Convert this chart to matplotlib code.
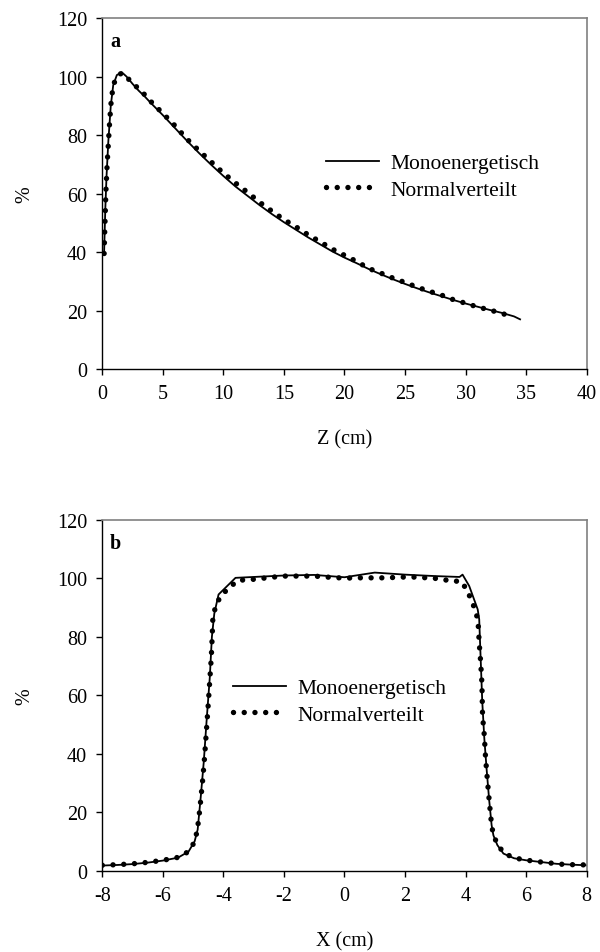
import numpy as np
import matplotlib.pyplot as plt

plt.rcParams['font.family'] = ['Liberation Serif', 'DejaVu Serif']
plt.rcParams['axes.unicode_minus'] = False

# depth dose (panel a)
z_mono = [0.15, 0.25, 0.35, 0.5, 0.7, 0.9, 1.2, 1.6, 2.0, 2.5, 3.0, 3.5, 4.0,
          5.0, 6.0, 7.0, 8.0, 9.0, 10.0, 11.0, 12.0, 13.0, 14.0, 15.0, 16.0,
          17.0, 18.0, 19.0, 20.0, 21.0, 22.0, 23.0, 24.0, 25.0, 26.0, 27.0,
          28.0, 29.0, 30.0, 31.0, 32.0, 33.0, 34.0, 34.5]
d_mono = [40.0, 55.0, 66.0, 78.0, 90.0, 97.0, 100.5, 101.5, 100.0, 97.5, 95.2,
          93.2, 91.0, 86.8, 82.4, 78.0, 73.8, 69.8, 66.0, 62.4, 59.2, 56.0, 53.0,
          50.2, 47.6, 45.0, 42.6, 40.2, 38.1, 36.2, 34.2, 32.4, 30.7, 29.1, 27.6,
          26.2, 24.9, 23.6, 22.4, 21.3, 20.2, 19.2, 18.0, 17.0]

z_norm = [0.15, 0.2, 0.25, 0.3, 0.4, 0.5, 0.6, 0.7, 0.8, 1.0, 1.3, 1.6, 2.0,
          2.5, 3.0, 3.5, 4.0, 5.0, 6.0, 7.0, 8.0, 9.0, 10.0, 11.0, 12.0, 13.0,
          14.0, 15.0, 16.0, 17.0, 18.0, 19.0, 20.0, 21.0, 22.0, 23.0, 24.0,
          25.0, 26.0, 27.0, 28.0, 29.0, 30.0, 31.0, 32.0, 33.0, 34.0]
d_norm = [39.5, 47.0, 54.0, 61.0, 70.0, 77.0, 84.0, 90.0, 94.0, 98.0, 100.3,
          101.2, 99.8, 97.8, 95.8, 93.8, 91.5, 87.4, 83.2, 78.6, 74.6, 70.8,
          67.0, 63.6, 60.4, 57.0, 54.0, 51.1, 48.6, 45.9, 43.5, 41.0, 38.9,
          36.8, 34.4, 32.8, 31.1, 29.6, 28.0, 26.6, 25.3, 23.7, 22.5, 21.2,
          20.2, 19.0, 17.8]

# lateral profile (panel b)
x_mono = [-8.0, -7.5, -7.0, -6.5, -6.0, -5.5, -5.15, -4.95, -4.85, -4.75,
          -4.65, -4.55, -4.45, -4.38, -4.3, -4.16, -3.6, -3.0, -2.0, -1.0, 0.0,
          1.0, 2.0, 3.0, 3.8, 3.9, 4.12, 4.4, 4.45, 4.5, 4.55, 4.62, 4.7, 4.78,
          4.86, 4.92, 5.05, 5.25, 5.6, 6.0, 6.5, 7.0, 7.5, 8.0]
p_mono = [1.7, 1.9, 2.2, 2.7, 3.4, 4.4, 6.5, 10.0, 14.0, 25.0, 37.0, 52.0,
          66.0, 80.0, 88.0, 94.5, 100.2, 100.5, 101.0, 101.2, 100.4, 102.0,
          101.3, 100.8, 100.5, 101.3, 97.4, 89.4, 86.0, 72.0, 58.0, 45.0, 34.0,
          24.0, 15.5, 12.0, 8.7, 5.8, 4.2, 3.5, 2.9, 2.3, 2.0, 1.8]

x_norm = [-8.0, -7.5, -7.0, -6.5, -6.0, -5.5, -5.2, -5.0, -4.9, -4.82, -4.75,
          -4.68, -4.62, -4.56, -4.5, -4.45, -4.4, -4.37, -4.35, -4.28, -4.14,
          -3.86, -3.5, -3.2, -2.8, -2.5, -2.0, -1.5, -1.0, -0.5, 0.0, 0.5, 1.0,
          1.4, 1.75, 2.1, 2.5, 2.8, 3.2, 3.5, 3.84, 4.04, 4.18, 4.32, 4.41,
          4.45, 4.5, 4.54, 4.56, 4.62, 4.66, 4.72, 4.78, 4.85, 4.9, 5.03, 5.26,
          5.6, 6.0, 6.3, 6.7, 7.0, 7.35, 7.7, 8.0]
p_norm = [1.8, 2.0, 2.3, 2.8, 3.5, 4.5, 6.2, 9.0, 12.0, 17.0, 24.0, 31.5,
          39.0, 48.0, 57.0, 65.0, 73.0, 80.0, 86.0, 89.5, 93.0, 96.5, 99.4,
          99.5, 99.9, 100.3, 100.8, 100.8, 100.8, 100.4, 100.1, 100.2, 100.2,
          100.2, 100.4, 100.5, 100.4, 100.1, 99.9, 99.0, 99.1, 96.2, 92.8,
          89.2, 85.5, 78.0, 71.0, 64.0, 53.0, 46.0, 38.5, 31.0, 24.0, 16.5,
          13.0, 9.3, 6.0, 4.3, 3.6, 3.1, 2.7, 2.3, 2.0, 2.0, 1.9]

FS = 14.5
LEG_FS = 15.5
fig = plt.figure(figsize=(6, 9.53), dpi=100)
ax_a = fig.add_axes([0.1705, 0.6117, 0.8073, 0.3683])
ax_b = fig.add_axes([0.1705, 0.0855, 0.8073, 0.3678])

dot_style = dict(color='black', linewidth=3.9, linestyle=(0, (0.001, 1.98)),
                 dash_capstyle='round')


def style_axes(ax, xlim, xticks, xlabel, tag, legend_anchor):
    ax.set_xlim(*xlim)
    ax.set_ylim(0, 120)
    ax.set_xticks(xticks)
    ax.set_yticks(range(0, 121, 20))
    ax.tick_params(direction='out', length=4, width=1, labelsize=FS, pad=7,
                   top=False, right=False)
    for side in ('top', 'right'):
        ax.spines[side].set_color('#808080')
        ax.spines[side].set_linewidth(1.2)
    for side in ('left', 'bottom'):
        ax.spines[side].set_linewidth(1.0)
    ax.set_xlabel(xlabel, fontsize=FS, labelpad=19)
    ax.set_ylabel('%', fontsize=FS, labelpad=16)
    ax.text(0.016, 0.962, tag, transform=ax.transAxes, fontsize=FS,
            fontweight='bold', va='top', ha='left')
    ax.legend(loc='center left', bbox_to_anchor=legend_anchor, frameon=False,
              fontsize=LEG_FS, handlelength=2.45, handletextpad=0.55,
              labelspacing=0.3, borderpad=0, borderaxespad=0)


ax_a.plot(z_mono, d_mono, color='black', linewidth=1.3, label='Monoenergetisch')
ax_a.plot(z_norm, d_norm, label='Normalverteilt', **dot_style)
style_axes(ax_a, (0, 40), range(0, 41, 5), 'Z (cm)', 'a', (0.462, 0.548))

ax_b.plot(x_mono, p_mono, color='black', linewidth=1.3, label='Monoenergetisch')
ax_b.plot(x_norm, p_norm, label='Normalverteilt', **dot_style)
style_axes(ax_b, (-8, 8), range(-8, 9, 2), 'X (cm)', 'b', (0.27, 0.482))

fig.savefig('out.png', dpi=100)
